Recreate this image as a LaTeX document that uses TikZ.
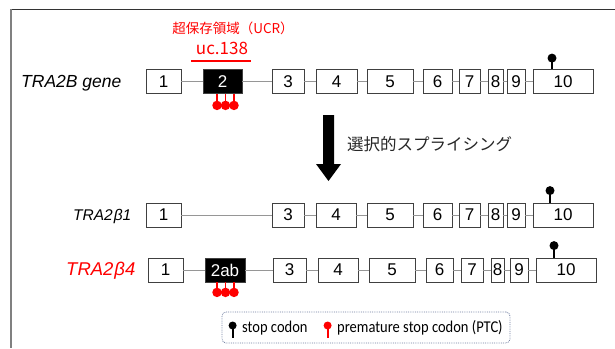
\documentclass[tikz,border=0pt]{standalone}
\usepackage{fontspec}
\setmainfont{Liberation Sans}
\newfontfamily\jpfont{Noto Sans CJK JP}
\newfontfamily\legfont[FakeStretch=0.88]{Carlito}
\definecolor{ptcred}{RGB}{255,0,0}
\definecolor{introngray}{RGB}{150,150,150}
\definecolor{legborder}{RGB}{110,125,160}
\begin{document}
\begin{tikzpicture}[x=1pt,y=-1pt,
  exon/.style={draw=black!75, line width=0.8pt, fill=white, minimum height=24pt,
    inner sep=0pt, font=\fontsize{17}{17}\selectfont},
  blackexon/.style={exon, fill=black, text=white},
  intron/.style={draw=introngray, line width=0.9pt},
  stopstem/.style={draw=black, line width=1.3pt},
  ptcstem/.style={draw=ptcred, line width=1.3pt},
  rowlabel/.style={font=\fontsize{17.5}{17.5}\selectfont\itshape, inner sep=0pt},
  legtext/.style={font=\legfont\fontsize{16.5}{16.5}\selectfont, anchor=west, inner sep=0pt},
]
\useasboundingbox (0,0) rectangle (615,348);
% frame
\draw[black!80, line width=1pt] (11,9.5) -- (615,9.5);
\draw[black!50, line width=1.4pt] (11,9) -- (11,348);

% title
\node[text=ptcred, font=\jpfont\fontsize{13.5}{13.5}\selectfont, inner sep=0pt] (ucr) at (233,28) {超保存領域（UCR）};
\node[text=ptcred, font=\jpfont\fontsize{17}{17}\selectfont, inner sep=0pt] (uc) at (222,48) {uc.138};
\draw[ptcred, line width=2pt] (191,61) -- (251,61);

% ---------- Row 1: gene ----------
\node[rowlabel, anchor=west] (lab1) at (21,83) {TRA2B gene};
\node[exon, minimum width=35pt] (a1) at (163.5,81.5) {1};
\node[blackexon, minimum width=39pt] (a2) at (222.5,81.5) {2};
\node[exon, minimum width=32pt] (a3) at (288,81.5) {3};
\node[exon, minimum width=41pt] (a4) at (336.5,81.5) {4};
\node[exon, minimum width=46pt] (a5) at (390,81.5) {5};
\node[exon, minimum width=29pt] (a6) at (437.5,81.5) {6};
\node[exon, minimum width=21pt] (a7) at (469.5,81.5) {7};
\node[exon, minimum width=15pt] (a8) at (495.5,81.5) {8};
\node[exon, minimum width=18pt] (a9) at (516,81.5) {9};
\node[exon, minimum width=60pt] (a10) at (563,81.5) {10};
\foreach \u/\v in {a1/a2,a2/a3,a3/a4,a4/a5,a5/a6,a6/a7,a7/a8,a8/a9,a9/a10}
  \draw[intron] (\u.east) -- (\v.west);
\draw[stopstem] (a10.north) ++(-11,0) -- ++(0,-11) node[circle, fill=black, inner sep=0pt, minimum size=9pt] (s1) {};
\foreach \dx [count=\i] in {-5.5,3,11.5}
  \draw[ptcstem] (a2.south) ++(\dx,0) -- ++(0,11.5) node[circle, fill=ptcred, inner sep=0pt, minimum size=9.5pt] (p1\i) {};

% ---------- splicing arrow ----------
\fill[black] (323,115) -- (334,115) -- (334,164) -- (341,164) -- (328.5,181) -- (316,164) -- (323,164) -- cycle;
\node[font=\jpfont\fontsize{16.5}{16.5}\selectfont, text=black!85, anchor=west, inner sep=0pt] (splice) at (347,144) {選択的スプライシング};

% ---------- Row 2: TRA2beta1 ----------
\node[rowlabel, font=\fontsize{15.5}{15.5}\selectfont\itshape, anchor=west] (lab2) at (73,216) {TRA2\kern1ptβ1};
\node[exon, minimum width=35pt] (b1) at (163.5,215) {1};
\node[exon, minimum width=32pt] (b3) at (288,215) {3};
\node[exon, minimum width=40pt] (b4) at (336,215) {4};
\node[exon, minimum width=46pt] (b5) at (390,215) {5};
\node[exon, minimum width=29pt] (b6) at (437.5,215) {6};
\node[exon, minimum width=21pt] (b7) at (469.5,215) {7};
\node[exon, minimum width=15pt] (b8) at (495.5,215) {8};
\node[exon, minimum width=18pt] (b9) at (516,215) {9};
\node[exon, minimum width=60pt] (b10) at (563,215) {10};
\foreach \u/\v in {b1/b3,b3/b4,b4/b5,b5/b6,b6/b7,b7/b8,b8/b9,b9/b10}
  \draw[intron] (\u.east) -- (\v.west);
\draw[stopstem] (b10.north) ++(-13,0) -- ++(0,-12) node[circle, fill=black, inner sep=0pt, minimum size=9pt] (s2) {};

% ---------- Row 3: TRA2beta4 ----------
\node[rowlabel, font=\fontsize{18.5}{18.5}\selectfont\itshape, text=ptcred, anchor=west] (lab3) at (66,271) {TRA2\kern1ptβ4};
\node[exon, minimum width=35pt] (c1) at (165.5,270) {1};
\node[blackexon, minimum width=40pt] (c2) at (225,270) {2ab};
\node[exon, minimum width=33pt] (c3) at (289.5,270) {3};
\node[exon, minimum width=40pt] (c4) at (338,270) {4};
\node[exon, minimum width=46pt] (c5) at (392,270) {5};
\node[exon, minimum width=27pt] (c6) at (439.5,270) {6};
\node[exon, minimum width=22pt] (c7) at (472,270) {7};
\node[exon, minimum width=13pt] (c8) at (497.5,270) {8};
\node[exon, minimum width=18pt] (c9) at (519,270) {9};
\node[exon, minimum width=60pt] (c10) at (566,270) {10};
\foreach \u/\v in {c1/c2,c2/c3,c3/c4,c4/c5,c5/c6,c6/c7,c7/c8,c8/c9,c9/c10}
  \draw[intron] (\u.east) -- (\v.west);
\draw[stopstem] (c10.north) ++(-12,0) -- ++(0,-12) node[circle, fill=black, inner sep=0pt, minimum size=9pt] (s3) {};
\foreach \dx [count=\i] in {-8,0.5,9}
  \draw[ptcstem] (c2.south) ++(\dx,0) -- ++(0,10) node[circle, fill=ptcred, inner sep=0pt, minimum size=9.5pt] (p3\i) {};

% ---------- legend ----------
\node[draw=legborder, densely dotted, line width=0.8pt, rounded corners=4pt,
  minimum width=288pt, minimum height=31pt, inner sep=0pt] (legend) at (366,327.5) {};
\draw[stopstem, line width=1.8pt] (legend.west) ++(11,10) -- ++(0,-12) node[circle, fill=black, inner sep=0pt, minimum size=8pt] (ls) {};
\node[legtext] (lt1) at (242,328) {stop codon};
\draw[ptcstem, line width=1.8pt] (legend.west) ++(106,10) -- ++(0,-12) node[circle, fill=ptcred, inner sep=0pt, minimum size=8pt] (lp) {};
\node[legtext] (lt2) at (337,328) {premature stop codon (PTC)};
\end{tikzpicture}
\end{document}
